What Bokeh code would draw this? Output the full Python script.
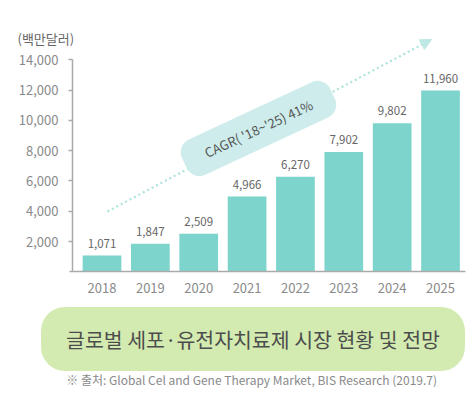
from bokeh.plotting import figure
from bokeh.models import (ColumnDataSource, Range1d, FixedTicker, NumeralTickFormatter,
                          Label, Arrow, NormalHead, LabelSet)
from bokeh.core.properties import value
from bokeh.embed import file_html
from bokeh.resources import INLINE

# ---- data ----
years = [2018, 2019, 2020, 2021, 2022, 2023, 2024, 2025]
market = [1071, 1847, 2509, 4966, 6270, 7902, 9802, 11960]
value_labels = ["1,071", "1,847", "2,509", "4,966", "6,270", "7,902", "9,802", "11,960"]
y_ticks = [2000, 4000, 6000, 8000, 10000, 12000, 14000]
unit_label = "(백만달러)"
cagr_label = "CAGR( '18~'25) 41%"
title_text = "글로벌 세포·유전자치료제 시장 현황 및 전망"
source_text = "※ 출처:  Global Cel and Gene Therapy Market, BIS Research (2019.7)"

FONT = "Noto Sans CJK KR"
BAR = "#7cd4cc"
ARROW = "#aee2dd"

W, H = 475, 396
# page-pixel layout: first bar centre, bar pitch, baseline, px per 1000
C0, PITCH = 101.5, 48.36
BASE, PX1000 = 271.3, 15.15

X0 = years[0] - C0 / PITCH
X1 = years[0] + (W - C0) / PITCH
Y1 = BASE / PX1000 * 1000
Y0 = -(H - BASE) / PX1000 * 1000

def dx(px):
    return years[0] + (px - C0) / PITCH
def dy(py):
    return (BASE - py) / PX1000 * 1000

p = figure(width=W, height=H, output_backend="svg", toolbar_location=None, title=None,
           x_range=Range1d(X0, X1), y_range=Range1d(Y0, Y1),
           min_border=0, min_border_left=0, min_border_right=0,
           min_border_top=0, min_border_bottom=0)
p.outline_line_color = None
p.xgrid.visible = False
p.ygrid.visible = False

src = ColumnDataSource(dict(x=years, top=market, lab=value_labels))
p.vbar(x="x", top="top", width=0.8, source=src, fill_color=BAR, line_color=None)

p.add_layout(LabelSet(x="x", y="top", text="lab", source=src, y_offset=8,
                      text_align="center", text_baseline="bottom",
                      text_font=value(FONT), text_font_size="11.5px", text_color="#666666"))

ya = p.yaxis[0]
ya.fixed_location = dx(72)
ya.ticker = FixedTicker(ticks=y_ticks)
ya.formatter = NumeralTickFormatter(format="0,0")
ya.bounds = (0, 14000)
ya.axis_line_color = "#aaaaaa"
ya.axis_line_width = 1.5
ya.major_tick_line_color = "#aaaaaa"
ya.major_tick_line_width = 1.5
ya.major_tick_out = 4
ya.major_tick_in = 0
ya.minor_tick_line_color = None
ya.major_label_text_font = FONT
ya.major_label_text_font_size = "13px"
ya.major_label_text_color = "#8a8a8a"
ya.major_label_standoff = 10

xa = p.xaxis[0]
xa.fixed_location = 0
xa.ticker = FixedTicker(ticks=years)
xa.bounds = (dx(69), dx(465))
xa.axis_line_color = "#aaaaaa"
xa.axis_line_width = 1.5
xa.major_tick_line_color = None
xa.minor_tick_line_color = None
xa.major_label_text_font = FONT
xa.major_label_text_font_size = "13px"
xa.major_label_text_color = "#8a8a8a"
xa.major_label_standoff = 5

# trend arrow
p.add_layout(Arrow(x_start=dx(107), y_start=dy(211), x_end=dx(431), y_end=dy(39),
                   line_color=ARROW, line_width=2.2, line_dash="2 3",
                   end=NormalHead(size=11, fill_color="#bfe8e4", line_color="#bfe8e4")))

# CAGR pill  (padding: left, right, top, bottom)
p.add_layout(Label(x=dx(258), y=dy(128), text=cagr_label, angle=25, angle_units="deg",
                   text_align="center", text_baseline="middle",
                   text_font=FONT, text_font_size="13px", text_color="#555555",
                   background_fill_color="#cdeceb", padding=(23, 23, 10, 10), border_radius=14))

# unit label
p.add_layout(Label(x=dx(17), y=dy(38), text=unit_label, text_align="left", text_baseline="middle",
                   text_font=FONT, text_font_size="13px", text_color="#666666"))

# bottom title pill
p.add_layout(Label(x=dx(252.5), y=dy(338.5), text=title_text,
                   text_align="center", text_baseline="middle",
                   text_font=FONT, text_font_size="20.5px", text_color="#4d4d4d",
                   background_fill_color="#d3ebb0", padding=(25, 25, 17, 17), border_radius=24))

# source
p.add_layout(Label(x=dx(252.5), y=dy(379), text=source_text,
                   text_align="center", text_baseline="middle",
                   text_font=FONT, text_font_size="12px", text_color="#8a8a8a"))

open("out.html", "w").write(file_html(p, INLINE))
